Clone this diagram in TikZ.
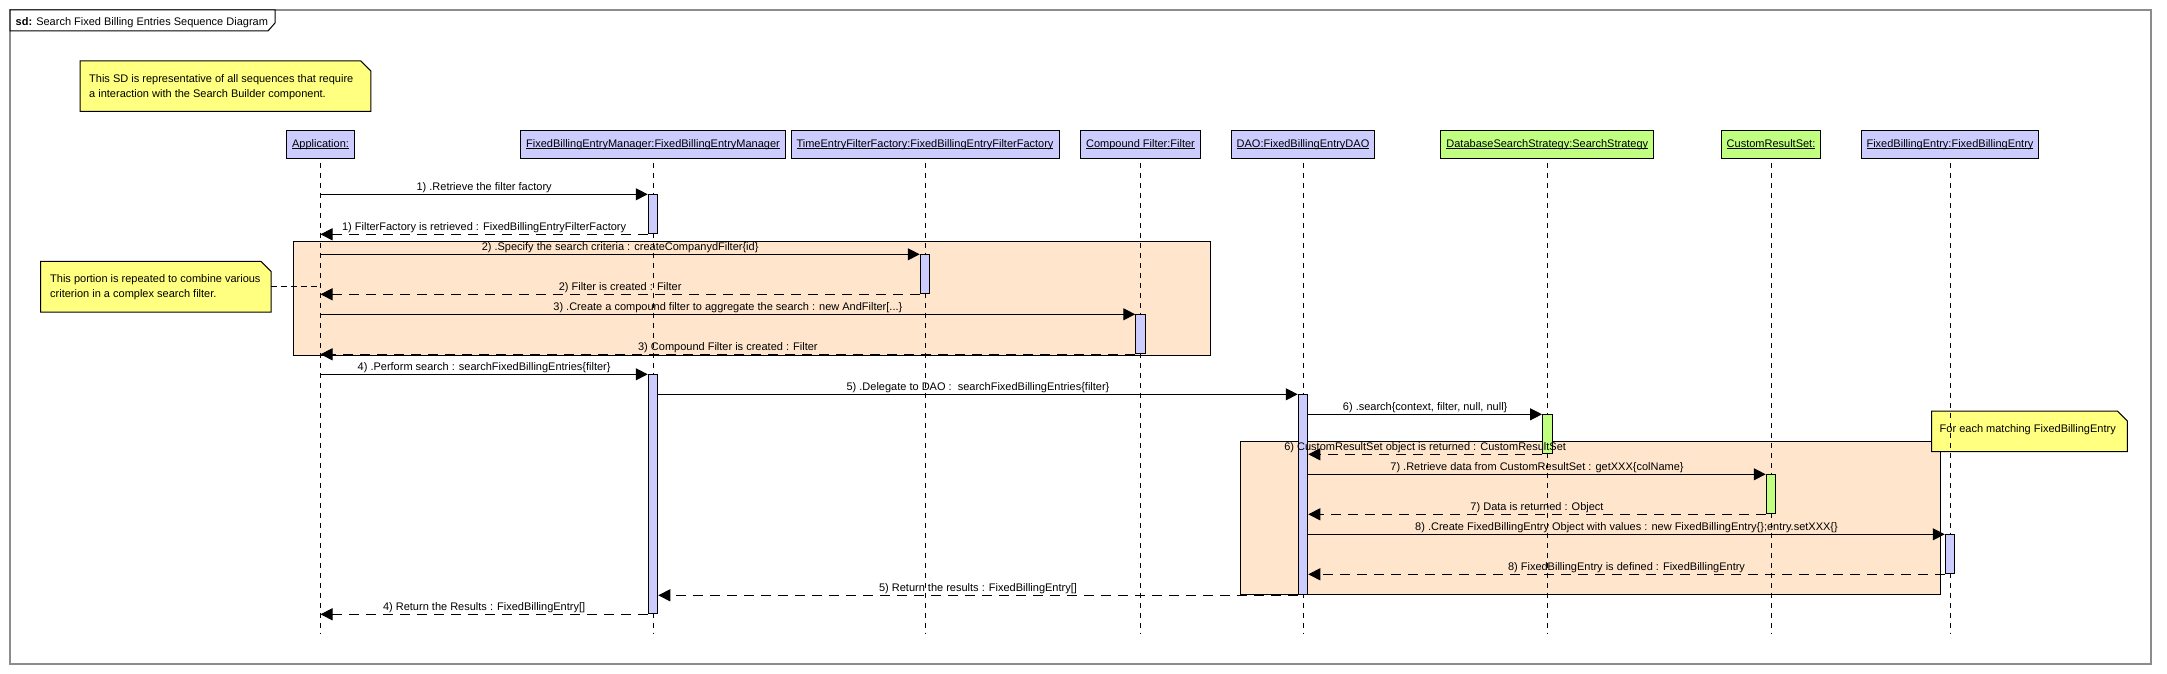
\documentclass[tikz,border=0pt]{standalone}
\usepackage{fontspec}
\setmainfont{Liberation Sans}
\usetikzlibrary{arrows.meta}
\definecolor{objblue}{HTML}{CCCCFF}
\definecolor{objgreen}{HTML}{C0FF80}
\definecolor{fragfill}{HTML}{FFE5CC}
\definecolor{notefill}{HTML}{FFFF80}
\definecolor{framegray}{HTML}{8C8C8C}
\newcommand\ulbl[1]{\setbox0=\hbox{#1}\rlap{\rule[-1.6pt]{\wd0}{0.8pt}}\box0}
\begin{document}
\begin{tikzpicture}[x=1pt,y=-1pt,
 every node/.style={font=\fontsize{11}{15}\selectfont},
 obj/.style={draw, line width=1pt, fill=objblue, minimum height=27pt, inner sep=0pt},
 objg/.style={obj, fill=objgreen},
 act/.style={draw, line width=1pt, fill=objblue, minimum width=9.5pt, inner sep=0pt, anchor=north},
 actg/.style={act, fill=objgreen},
 life/.style={line width=1pt, dash pattern=on 5pt off 5pt},
 msg/.style={line width=1pt, -{Triangle[length=12pt,width=12pt]}},
 ret/.style={msg, dash pattern=on 10pt off 7pt},
 lbl/.style={midway, anchor=base, yshift=3.6pt, inner sep=0pt},
 notebox/.style={anchor=north west, inner sep=0pt},
 notebg/.style={draw, line width=1pt, fill=notefill},
 notetxt/.style={anchor=west, align=left, inner sep=0pt},
 notelink/.style={line width=1pt, dash pattern=on 6pt off 4pt},
 frag/.style={draw, line width=1pt, fill=fragfill}]

\useasboundingbox (0,0) rectangle (2167,674);
\fill[white] (0,0) rectangle (2167,674);

% outer frame and title tab
\draw[framegray, line width=1.5pt] (10,10) rectangle (2151,664);
\filldraw[fill=white, draw=black, line width=1pt] (10,10) -- (275,10) -- (275,23) -- (268,31) -- (10,31) -- cycle;
\node[anchor=base west, inner sep=0pt] (title) at (15.5,25.3) {\textbf{sd:} Search Fixed Billing Entries Sequence Diagram};

% combined fragments
\draw[frag] (293,241.3) rectangle (1210.3,355.3);
\draw[frag] (1240.5,441) rectangle (1940.7,594.3);

% notes
\node[notebox, minimum width=290.5pt, minimum height=50pt] (n1) at (80,61) {};
\filldraw[notebg] (n1.north west) -- ([xshift=-10pt]n1.north east) -- ([yshift=-10pt]n1.north east) -- (n1.south east) -- (n1.south west) -- cycle;
\node[notetxt] (n1t) at ([xshift=9pt,yshift=-1pt]n1.west) {This SD is representative of all sequences that require\\a interaction with the Search Builder component.};

\node[notebox, minimum width=230pt, minimum height=50.4pt] (n2) at (40.6,261.3) {};
\filldraw[notebg] (n2.north west) -- ([xshift=-10pt]n2.north east) -- ([yshift=-10pt]n2.north east) -- (n2.south east) -- (n2.south west) -- cycle;
\node[notetxt] (n2t) at ([xshift=9.4pt,yshift=-0.5pt]n2.west) {This portion is repeated to combine various\\criterion in a complex search filter.};

\node[notebox, minimum width=195.5pt, minimum height=40.3pt] (n3) at (1931.5,411) {};
\filldraw[notebg] (n3.north west) -- ([xshift=-10pt]n3.north east) -- ([yshift=-10pt]n3.north east) -- (n3.south east) -- (n3.south west) -- cycle;
\node[notetxt] (n3t) at ([xshift=8pt,yshift=1.5pt]n3.west) {For each matching FixedBillingEntry};

% lifeline heads
\node[obj, minimum width=68pt]    (app)  at (320.5,144.5) {\ulbl{Application:}};
\node[obj, minimum width=265pt]   (fbem) at (653,144.5)   {\ulbl{FixedBillingEntryManager:FixedBillingEntryManager}};
\node[obj, minimum width=268pt]   (teff) at (925,144.5)   {\ulbl{TimeEntryFilterFactory:FixedBillingEntryFilterFactory}};
\node[obj, minimum width=120.4pt] (cf)   at (1140.5,144.5){\ulbl{Compound Filter:Filter}};
\node[obj, minimum width=143.7pt] (dao)  at (1303,144.5)  {\ulbl{DAO:FixedBillingEntryDAO}};
\node[objg, minimum width=213.2pt](dss)  at (1547.3,144.5){\ulbl{DatabaseSearchStrategy:SearchStrategy}};
\node[objg, minimum width=99.5pt] (crs)  at (1771,144.5)  {\ulbl{CustomResultSet:}};
\node[obj, minimum width=177.5pt] (fbe)  at (1950,144.5)  {\ulbl{FixedBillingEntry:FixedBillingEntry}};

% lifelines
\coordinate (appE)  at (320.5,634);
\coordinate (fbemE) at (653,634);
\coordinate (teffE) at (925,634);
\coordinate (cfE)   at (1140.5,634);
\coordinate (daoE)  at (1303,634);
\coordinate (dssE)  at (1547.3,634);
\coordinate (crsE)  at (1771,634);
\coordinate (fbeE)  at (1950,634);
\draw[life] ([yshift=-4pt]app.south)  -- (appE);
\draw[life] ([yshift=-4pt]fbem.south) -- (fbemE);
\draw[life] ([yshift=-4pt]teff.south) -- (teffE);
\draw[life] ([yshift=-4pt]cf.south)   -- (cfE);
\draw[life] ([yshift=-4pt]dao.south)  -- (daoE);
\draw[life] ([yshift=-4pt]dss.south)  -- (dssE);
\draw[life] ([yshift=-4pt]crs.south)  -- (crsE);
\draw[life] ([yshift=-4pt]fbe.south)  -- (fbeE);

% note link
\draw[notelink] (n2.east) -- (app.south |- n2.east);

% activations
\node[act,  minimum height=39pt]  (a1) at (653,194.3) {};
\node[act,  minimum height=39pt]  (a2) at (925,254.3) {};
\node[act,  minimum height=39pt]  (a3) at (1140.5,314.3) {};
\node[act,  minimum height=239pt] (a4) at (653,374.3) {};
\node[act,  minimum height=200pt] (a5) at (1303,394.3) {};
\node[actg, minimum height=39pt]  (a6) at (1547.3,414.3) {};
\node[actg, minimum height=39pt]  (a7) at (1771,474.3) {};
\node[act,  minimum height=39pt]  (a8) at (1950,534.3) {};

% messages
\draw[msg] (app.south |- a1.north) -- node[lbl] {1) .Retrieve the filter factory} (a1.north west);
\draw[ret] (a1.south west) -- node[lbl] {1) FilterFactory is retrieved : FixedBillingEntryFilterFactory} (app.south |- a1.south);
\draw[msg] (app.south |- a2.north) -- node[lbl] {2) .Specify the search criteria : createCompanydFilter\{id\}} (a2.north west);
\draw[ret] (a2.south west) -- node[lbl] {2) Filter is created : Filter} (app.south |- a2.south);
\draw[msg] (app.south |- a3.north) -- node[lbl] {3) .Create a compound filter to aggregate the search : new AndFilter[...\}} (a3.north west);
\draw[ret] (a3.south west) -- node[lbl] {3) Compound Filter is created : Filter} (app.south |- a3.south);
\draw[msg] (app.south |- a4.north) -- node[lbl] {4) .Perform search : searchFixedBillingEntries\{filter\}} (a4.north west);
\draw[msg] (a4.east |- a5.north) -- node[lbl] {5) .Delegate to DAO :\ \ searchFixedBillingEntries\{filter\}} (a5.north west);
\draw[msg] (a5.east |- a6.north) -- node[lbl] {6) .search\{context, filter, null, null\}} (a6.north west);
\draw[ret] (a6.south west) -- node[lbl] {6) CustomResultSet object is returned : CustomResultSet} (a5.east |- a6.south);
\draw[msg] (a5.east |- a7.north) -- node[lbl] {7) .Retrieve data from CustomResultSet : getXXX\{colName\}} (a7.north west);
\draw[ret] (a7.south west) -- node[lbl] {7) Data is returned : Object} (a5.east |- a7.south);
\draw[msg] (a5.east |- a8.north) -- node[lbl] {8) .Create FixedBillingEntry Object with values : new FixedBillingEntry\{\};entry.setXXX\{\}} (a8.north west);
\draw[ret] (a8.south west) -- node[lbl] {8) FixedBillingEntry is defined : FixedBillingEntry} (a5.east |- a8.south);
\draw[ret] (a5.south west) -- node[lbl] {5) Return the results : FixedBillingEntry[]} (a4.east |- a5.south);
\draw[ret] (a4.south west) -- node[lbl] {4) Return the Results : FixedBillingEntry[]} (app.south |- a4.south);
\end{tikzpicture}
\end{document}
